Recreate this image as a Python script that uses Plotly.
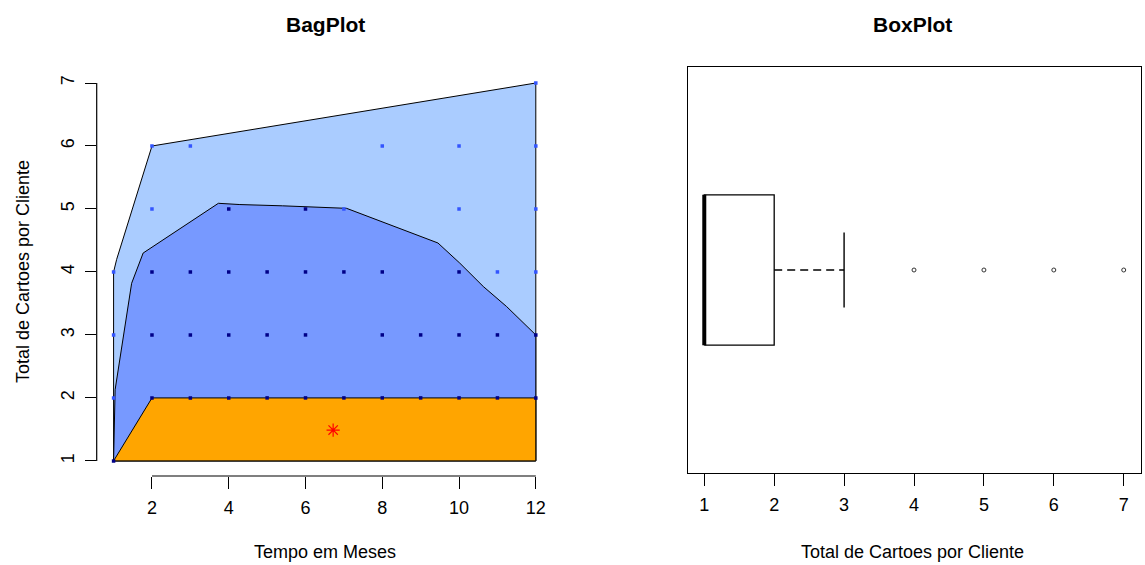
import plotly.graph_objects as go

# ---- BagPlot data: months (x) vs cards per client (y) ----
# points inside the bag
bag_meses   = [1,
               2, 3, 4, 5, 6, 7, 8, 9, 10, 11, 12,
               2, 3, 4, 5, 6, 8, 9, 10, 11, 12,
               2, 3, 4, 5, 6, 7, 8, 10,
               4, 6]
bag_cartoes = [1,
               2, 2, 2, 2, 2, 2, 2, 2, 2, 2, 2,
               3, 3, 3, 3, 3, 3, 3, 3, 3, 3,
               4, 4, 4, 4, 4, 4, 4, 4,
               5, 5]
# points outside the bag but inside the loop
loop_meses   = [1, 1, 1, 11, 12, 2, 7, 10, 12, 2, 3, 8, 10, 12, 12]
loop_cartoes = [2, 3, 4, 4, 4, 5, 5, 5, 5, 6, 6, 6, 6, 6, 7]

# hull polygons
loop_hull_x = [1, 1, 1.08, 2, 12, 12, 1]
loop_hull_y = [1, 4, 4.2, 6, 7, 1, 1]
bag_hull_x = [1, 1.04, 1.47, 1.77, 3.73, 4.29, 5.4, 6.46, 7.07, 9.45, 10.02, 10.63, 11.24, 12, 12, 1]
bag_hull_y = [1, 2.13, 3.82, 4.3, 5.09, 5.07, 5.05, 5.03, 5.01, 4.46, 4.14, 3.77, 3.45, 3.0, 1, 1]
center_x = [1, 2, 12, 12, 1]
center_y = [1, 2, 2, 1, 1]
mediana_x = [6.72]
mediana_y = [1.49]

# ---- BoxPlot statistics of cards per client ----
q1, mediana, q3 = 1, 1, 2
bigode_inf, bigode_sup = 1, 3
outliers = [4, 5, 6, 7]

x_ticks_bag = [2, 4, 6, 8, 10, 12]
y_ticks_bag = [1, 2, 3, 4, 5, 6, 7]
x_ticks_box = [1, 2, 3, 4, 5, 6, 7]

W, H = 1145, 565
FONT = "Arial, Liberation Sans, sans-serif"

def px(x):
    return x / W

def py(y):
    return 1 - y / H

fig = go.Figure()

# loop, bag and center regions
fig.add_trace(go.Scatter(x=loop_hull_x, y=loop_hull_y, fill="toself", fillcolor="#aaccff",
                         mode="lines", line=dict(color="black", width=1), xaxis="x", yaxis="y"))
fig.add_trace(go.Scatter(x=bag_hull_x, y=bag_hull_y, fill="toself", fillcolor="#7799ff",
                         mode="lines", line=dict(color="black", width=1), xaxis="x", yaxis="y"))
fig.add_trace(go.Scatter(x=center_x, y=center_y, fill="toself", fillcolor="#ffa500",
                         mode="lines", line=dict(color="black", width=1), xaxis="x", yaxis="y"))
# data points
fig.add_trace(go.Scatter(x=loop_meses, y=loop_cartoes, mode="markers",
                         marker=dict(symbol="square", size=3.5, color="#3355ff"), xaxis="x", yaxis="y"))
fig.add_trace(go.Scatter(x=bag_meses, y=bag_cartoes, mode="markers",
                         marker=dict(symbol="square", size=3.5, color="#000088"), xaxis="x", yaxis="y"))
# depth median
fig.add_trace(go.Scatter(x=mediana_x, y=mediana_y, mode="markers",
                         marker=dict(symbol="asterisk", size=11, color="red",
                                     line=dict(color="red", width=1.2)), xaxis="x", yaxis="y"))

# boxplot (horizontal) at y = 1
fig.add_trace(go.Scatter(x=[q1, q3, q3, q1, q1], y=[0.8, 0.8, 1.2, 1.2, 0.8], mode="lines",
                         line=dict(color="black", width=1.3), xaxis="x2", yaxis="y2"))
fig.add_trace(go.Scatter(x=[mediana, mediana], y=[0.8, 1.2], mode="lines",
                         line=dict(color="black", width=4), xaxis="x2", yaxis="y2"))
fig.add_trace(go.Scatter(x=[q3, bigode_sup], y=[1, 1], mode="lines",
                         line=dict(color="black", width=1.4, dash="8px,5px"), xaxis="x2", yaxis="y2"))
fig.add_trace(go.Scatter(x=[q1, bigode_inf], y=[1, 1], mode="lines",
                         line=dict(color="black", width=1.4, dash="8px,5px"), xaxis="x2", yaxis="y2"))
fig.add_trace(go.Scatter(x=[bigode_sup, bigode_sup], y=[0.9, 1.1], mode="lines",
                         line=dict(color="black", width=1.4), xaxis="x2", yaxis="y2"))
fig.add_trace(go.Scatter(x=[bigode_inf, bigode_inf], y=[0.9, 1.1], mode="lines",
                         line=dict(color="black", width=1.4), xaxis="x2", yaxis="y2"))
fig.add_trace(go.Scatter(x=outliers, y=[1] * len(outliers), mode="markers",
                         marker=dict(symbol="circle-open", size=4, color="#333333",
                                     line=dict(color="#333333", width=1)), xaxis="x2", yaxis="y2"))

tick_font = dict(family=FONT, size=18, color="black")
common = dict(showgrid=False, zeroline=False, ticks="outside", tickcolor="black",
              tickwidth=1.2, tickfont=tick_font)

fig.update_layout(
    width=W, height=H, margin=dict(l=0, r=0, t=0, b=0),
    paper_bgcolor="white", plot_bgcolor="white", showlegend=False,
    xaxis=dict(domain=[px(96.7), px(552.7)], range=[0.56, 12.44], tickvals=x_ticks_bag,
               ticklen=12, ticklabelstandoff=3, showline=False, anchor="y", **common),
    yaxis=dict(domain=[py(476), py(67.9)], range=[0.76, 7.24], tickvals=y_ticks_bag,
               ticklen=11, ticklabelstandoff=4, tickangle=-90, showline=False, anchor="x", **common),
    xaxis2=dict(domain=[px(687.5), px(1140.5)], range=[0.76, 7.24], tickvals=x_ticks_box,
                ticklen=12, ticklabelstandoff=3, showline=True, mirror=True, linecolor="black",
                linewidth=1.3, anchor="y2", **common),
    yaxis2=dict(domain=[py(473), py(67)], range=[0.46, 1.54], showticklabels=False,
                showline=True, mirror=True, linecolor="black", linewidth=1.3,
                showgrid=False, zeroline=False, ticks="", anchor="x2"),
)

# BagPlot axis lines span only the tick range
fig.add_shape(type="line", xref="x", yref="paper", x0=x_ticks_bag[0], x1=x_ticks_bag[-1],
              y0=py(476), y1=py(476), line=dict(color="black", width=1.2))
fig.add_shape(type="line", xref="paper", yref="y", x0=px(96.7), x1=px(96.7),
              y0=y_ticks_bag[0], y1=y_ticks_bag[-1], line=dict(color="black", width=1.2))

title_font = dict(family=FONT, size=21, color="black")
label_font = dict(family=FONT, size=18, color="black")
fig.add_annotation(text="<b>BagPlot</b>", x=px(325), y=py(25), xref="paper", yref="paper",
                   showarrow=False, font=title_font, xanchor="center", yanchor="middle")
fig.add_annotation(text="<b>BoxPlot</b>", x=px(913), y=py(25), xref="paper", yref="paper",
                   showarrow=False, font=title_font, xanchor="center", yanchor="middle")
fig.add_annotation(text="Tempo em Meses", x=px(325), y=py(552), xref="paper", yref="paper",
                   showarrow=False, font=label_font, xanchor="center", yanchor="middle")
fig.add_annotation(text="Total de Cartoes por Cliente", x=px(913), y=py(552), xref="paper",
                   yref="paper", showarrow=False, font=label_font, xanchor="center", yanchor="middle")
fig.add_annotation(text="Total de Cartoes por Cliente", x=px(23), y=py(272), xref="paper",
                   yref="paper", showarrow=False, font=label_font, textangle=-90,
                   xanchor="center", yanchor="middle")

fig.write_html("out.html")
